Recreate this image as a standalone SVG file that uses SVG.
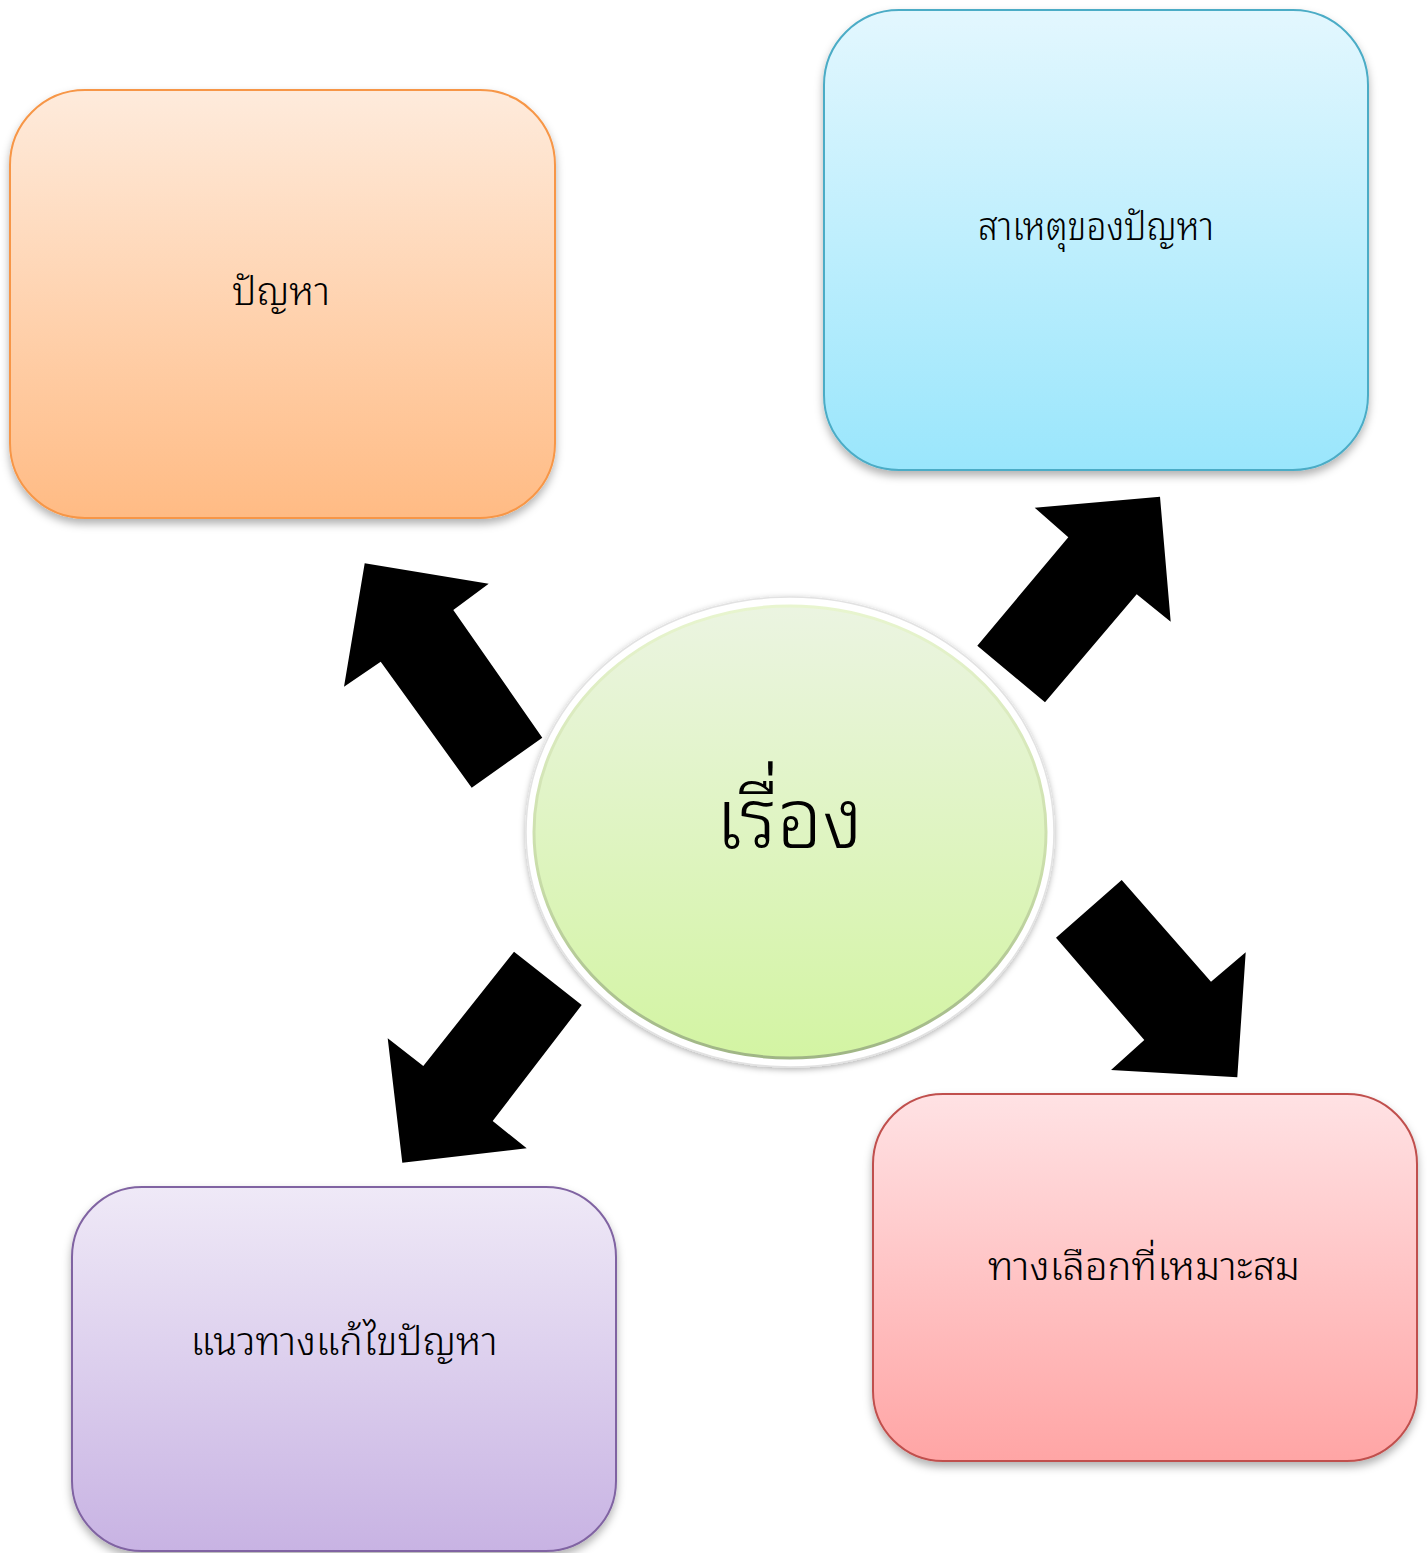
<svg xmlns="http://www.w3.org/2000/svg" width="1427" height="1553" viewBox="0 0 1427 1553">
<defs>
<linearGradient id="gOrange" x1="0" y1="0" x2="0" y2="1"><stop offset="0" stop-color="#FEEBDC"/><stop offset="1" stop-color="#FFBB84"/></linearGradient>
<linearGradient id="gBlue" x1="0" y1="0" x2="0" y2="1"><stop offset="0" stop-color="#E3F7FE"/><stop offset="1" stop-color="#9AE6FC"/></linearGradient>
<linearGradient id="gRed" x1="0" y1="0" x2="0" y2="1"><stop offset="0" stop-color="#FFE2E4"/><stop offset="1" stop-color="#FFA5A5"/></linearGradient>
<linearGradient id="gPurple" x1="0" y1="0" x2="0" y2="1"><stop offset="0" stop-color="#EFE9F7"/><stop offset="1" stop-color="#C8B3E3"/></linearGradient>
<linearGradient id="gGreen" x1="0" y1="0" x2="0" y2="1"><stop offset="0" stop-color="#EBF4E1"/><stop offset="1" stop-color="#D3F4A3"/></linearGradient>
<linearGradient id="gRim" x1="0" y1="0" x2="0" y2="1"><stop offset="0" stop-color="#e8f5cf"/><stop offset="0.6" stop-color="#c8dca8"/><stop offset="1" stop-color="#9fb585"/></linearGradient>
<filter id="shadow" x="-10%" y="-10%" width="120%" height="125%"><feDropShadow dx="0" dy="5" stdDeviation="4" flood-color="#000" flood-opacity="0.3"/></filter>
<filter id="soft" x="-10%" y="-10%" width="120%" height="120%"><feDropShadow dx="0" dy="2" stdDeviation="3" flood-color="#000" flood-opacity="0.3"/></filter>
</defs>
<style>
.box{stroke-width:2}
.lbl{font-family:"Noto Sans Thai Looped","Noto Sans Thai","Noto Sans","DejaVu Sans",sans-serif;font-size:39px;font-weight:300;fill:#000;text-anchor:middle}
.center{font-size:84px;font-weight:300}
.arrow{fill:#000}
</style>
<rect width="1427" height="1553" fill="#fff"/>
<g id="node-problem">
<rect class="box" x="10" y="90" width="545" height="428" rx="75" fill="url(#gOrange)" stroke="#F79646" filter="url(#shadow)"/>
<text class="lbl" x="281" y="305" textLength="98" lengthAdjust="spacingAndGlyphs">ปัญหา</text>
</g>
<g id="node-cause">
<rect class="box" x="824" y="10" width="544" height="460" rx="75" fill="url(#gBlue)" stroke="#4BACC6" filter="url(#shadow)"/>
<text class="lbl" x="1096" y="240" textLength="236" lengthAdjust="spacingAndGlyphs">สาเหตุของปัญหา</text>
</g>
<g id="node-choice">
<rect class="box" x="873" y="1094" width="544" height="367" rx="70" fill="url(#gRed)" stroke="#C0504D" filter="url(#shadow)"/>
<text class="lbl" x="1144" y="1280" textLength="312" lengthAdjust="spacingAndGlyphs">ทางเลือกที่เหมาะสม</text>
</g>
<g id="node-solution">
<rect class="box" x="72" y="1187" width="544" height="364" rx="70" fill="url(#gPurple)" stroke="#8064A2" filter="url(#shadow)"/>
<text class="lbl" x="344" y="1355" textLength="307" lengthAdjust="spacingAndGlyphs">แนวทางแก้ไขปัญหา</text>
</g>
<g id="connectors">
<polygon class="arrow" points="364.7,563.3 488.7,583.7 453.3,610 542.3,737.7 471.7,787.7 380.7,661.7 344,686.7"/>
<polygon class="arrow" points="1160,496.7 1170.7,621.7 1136.7,594.3 1045,702.3 977.3,645.7 1068.3,537.3 1034.7,507.7"/>
<polygon class="arrow" points="514,951.7 581.7,1005 492.7,1121 526.7,1148.3 402.3,1162.7 387.7,1038.3 423.3,1066"/>
<polygon class="arrow" points="1121.7,880 1211,981.7 1245.7,952.3 1237.3,1077.3 1111,1070 1144.3,1040 1056,937.7"/>
</g>
<g id="node-topic">
<ellipse cx="790" cy="832" rx="264" ry="235" fill="#fff" stroke="#e2e2e2" stroke-width="1.5" filter="url(#soft)"/>
<ellipse cx="790" cy="832" rx="256" ry="226" fill="url(#gGreen)" stroke="url(#gRim)" stroke-width="3"/>
<text class="lbl center" x="789" y="848" textLength="147" lengthAdjust="spacingAndGlyphs">เรื่อง</text>
</g>
</svg>
